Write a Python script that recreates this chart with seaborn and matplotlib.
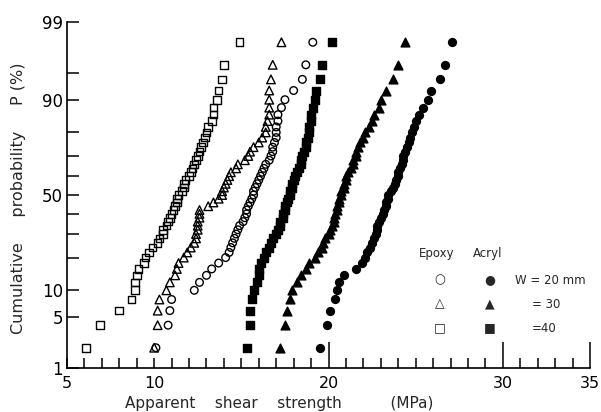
import numpy as np
import pandas as pd
import seaborn as sns
import matplotlib
matplotlib.use("Agg")
import matplotlib.pyplot as plt
from statistics import NormalDist

# apparent shear strength (MPa) of every specimen
epoxy_20 = [10.1, 10.8, 10.9, 11.0, 12.3, 12.6, 13.0, 13.3, 13.7, 14.1,
            14.3, 14.4, 14.5, 14.6, 14.7, 14.8, 14.9, 15.1, 15.2, 15.3,
            15.3, 15.4, 15.5, 15.6, 15.7, 15.7, 15.8, 15.9, 16.0, 16.1,
            16.2, 16.3, 16.4, 16.6, 16.7, 16.8, 16.8, 16.9, 17.0, 17.0,
            17.0, 17.1, 17.1, 17.3, 17.5, 18.0, 18.5, 18.7, 19.1]
epoxy_30 = [10.0, 10.2, 10.2, 10.3, 10.7, 10.9, 11.2, 11.3, 11.4, 11.7,
            11.9, 12.1, 12.3, 12.4, 12.4, 12.5, 12.5, 12.5, 12.6, 12.6,
            12.6, 13.1, 13.4, 13.7, 13.9, 13.9, 14.0, 14.1, 14.2, 14.3,
            14.4, 14.7, 14.8, 15.2, 15.4, 15.5, 15.7, 16.0, 16.2, 16.4,
            16.4, 16.5, 16.6, 16.6, 16.6, 16.6, 16.7, 16.8, 17.3]
epoxy_40 = [6.1, 6.9, 8.0, 8.7, 8.9, 8.9, 9.0, 9.1, 9.4, 9.5,
            9.7, 9.9, 10.2, 10.3, 10.5, 10.5, 10.7, 10.8, 10.9, 11.0,
            11.1, 11.2, 11.3, 11.3, 11.4, 11.6, 11.7, 11.7, 11.8, 12.0,
            12.1, 12.2, 12.3, 12.4, 12.5, 12.6, 12.7, 12.8, 12.9, 13.0,
            13.1, 13.3, 13.4, 13.4, 13.6, 13.7, 13.9, 14.0, 14.9]
acryl_20 = [19.5, 19.9, 20.1, 20.4, 20.5, 20.6, 20.9, 21.6, 21.9, 22.1,
            22.2, 22.4, 22.5, 22.6, 22.7, 22.8, 22.8, 22.9, 23.0, 23.1,
            23.2, 23.3, 23.3, 23.4, 23.4, 23.6, 23.7, 23.8, 23.9, 24.0,
            24.0, 24.1, 24.2, 24.3, 24.3, 24.4, 24.5, 24.6, 24.7, 24.8,
            24.9, 25.0, 25.2, 25.4, 25.7, 25.9, 26.4, 26.7, 27.1]
acryl_30 = [17.2, 17.5, 17.6, 17.8, 17.9, 18.2, 18.4, 18.7, 18.9, 19.2,
            19.4, 19.6, 19.7, 19.8, 20.0, 20.1, 20.2, 20.3, 20.3, 20.4,
            20.5, 20.5, 20.6, 20.6, 20.7, 20.7, 20.9, 20.9, 21.0, 21.0,
            21.1, 21.3, 21.4, 21.4, 21.6, 21.6, 21.7, 21.8, 22.0, 22.1,
            22.3, 22.5, 22.6, 22.9, 23.0, 23.3, 23.7, 24.0, 24.4]
acryl_40 = [15.3, 15.5, 15.5, 15.6, 15.7, 15.9, 16.0, 16.0, 16.1, 16.3,
            16.4, 16.6, 16.7, 16.8, 17.0, 17.1, 17.2, 17.2, 17.4, 17.4,
            17.5, 17.5, 17.6, 17.7, 17.8, 17.8, 17.9, 17.9, 18.0, 18.1,
            18.2, 18.3, 18.4, 18.4, 18.5, 18.6, 18.7, 18.7, 18.8, 18.9,
            18.9, 19.0, 19.0, 19.1, 19.2, 19.3, 19.5, 19.6, 20.2]

y_major = [1, 5, 10, 50, 90, 99]
y_minor = [20, 30, 40, 60, 70, 80, 95]
x_major = [20, 30, 35]
x_labelled_minor = {5: "5", 10: "10"}

# series name -> (values, marker, face colour, size)
series = {
    "Epoxy W=20": (epoxy_20, "o", "none", 30),
    "Epoxy W=30": (epoxy_30, "^", "none", 38),
    "Epoxy W=40": (epoxy_40, "s", "none", 30),
    "Acryl W=20": (acryl_20, "o", "black", 32),
    "Acryl W=30": (acryl_30, "^", "black", 40),
    "Acryl W=40": (acryl_40, "s", "black", 32),
}

frames = []
for name, (vals, _, _, _) in series.items():
    d = pd.DataFrame({"series": name, "strength": vals})
    # cumulative probability plotting position i/(n+1)
    d["P"] = 100 * d["strength"].rank(method="first") / (len(d) + 1)
    frames.append(d)
data = pd.concat(frames, ignore_index=True)

# normal probability scale for the y axis
nd = NormalDist()
_ppf = np.vectorize(nd.inv_cdf, otypes=[float])
_cdf = np.vectorize(nd.cdf, otypes=[float])


def prob_fwd(p):
    p = np.clip(np.asarray(p, dtype=float) / 100.0, 1e-6, 1 - 1e-6)
    return _ppf(p)


def prob_inv(z):
    return _cdf(np.asarray(z, dtype=float)) * 100.0


sns.set_style("ticks")
plt.rcParams["font.family"] = ["DejaVu Sans"]

fig = plt.figure(figsize=(6.01, 4.12), dpi=100)
ax = fig.add_axes([67 / 601, 44 / 412, 523 / 601, 346 / 412])
ax.set_yscale("function", functions=(prob_fwd, prob_inv))

for name, (_, mk, fc, s) in series.items():
    sub = data[data["series"] == name]
    sns.scatterplot(data=sub, x="strength", y="P", marker=mk, s=s,
                    facecolor=fc, edgecolor="black", linewidth=1.0,
                    ax=ax, legend=False, zorder=3)

ax.set_xlim(5, 35)
ax.set_ylim(1, 99)

ax.set_yticks(y_major, labels=[str(v) for v in y_major])
ax.set_yticks(y_minor, minor=True)
minor_x = [v for v in range(5, 36) if v not in x_major]
ax.set_xticks(x_major, labels=[str(v) for v in x_major])
ax.set_xticks(minor_x, labels=[x_labelled_minor.get(v, "") for v in minor_x],
              minor=True)

ax.tick_params(axis="y", which="both", direction="in", length=8.5,
               width=1.1, labelsize=12, pad=3, colors="black")
ax.tick_params(axis="x", which="major", direction="in", length=19,
               width=1.1, labelsize=11.5, pad=6, colors="black")
ax.tick_params(axis="x", which="minor", direction="in", length=7,
               width=1.1, labelsize=11.5, pad=6, colors="black")

sns.despine(ax=ax)
for side in ("left", "bottom"):
    ax.spines[side].set_linewidth(1.2)
    ax.spines[side].set_color("black")

ax.set_xlabel("Apparent    shear    strength          (MPa)", fontsize=11)
ax.xaxis.set_label_coords((279 - 67) / 523, -0.08)
ax.set_ylabel("Cumulative     probability     P (%)", fontsize=11.5)
ax.yaxis.set_label_coords(-0.078, 0.49)


def px(x, y):
    return x / 601, 1 - y / 412


# legend drawn as a small table of symbols and text
fig.text(*px(437, 253), "Epoxy", ha="center", va="center", fontsize=8.5)
fig.text(*px(488, 253), "Acryl", ha="center", va="center", fontsize=8.5)
rows = [("○", "●", "W = 20 mm", 515), ("△", "▲", "= 30", 532),
        ("□", "■", "=40", 532)]
for (open_sym, full_sym, label, lx), ry in zip(rows, [280, 304, 328]):
    fig.text(*px(440, ry), open_sym, ha="center", va="center", fontsize=9)
    fig.text(*px(490, ry), full_sym, ha="center", va="center", fontsize=9)
    fig.text(*px(lx, ry), label, ha="left", va="center", fontsize=8.5)

fig.savefig("out.png", dpi=100)
